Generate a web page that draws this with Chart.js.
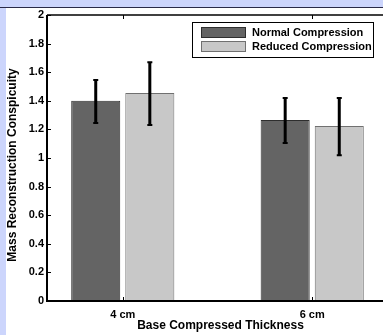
<!DOCTYPE html>
<html>
<head>
<meta charset="utf-8">
<script src="https://cdn.jsdelivr.net/npm/chart.js@4.4.0/dist/chart.umd.min.js"></script>
<style>
  html, body { margin: 0; padding: 0; }
  body { width: 383px; height: 335px; overflow: hidden; background: #ccd5fc; position: relative; }
  #topline { position: absolute; left: 0; top: 7px; width: 383px; height: 1px; background: #2a2a48; }
  #panel { position: absolute; left: 6px; top: 8px; right: 0; bottom: 0; background: #ffffff; }
  #wrap { position: absolute; left: 0; top: 0; width: 395px; height: 335px; }
</style>
</head>
<body>
<div id="topline"></div>
<div id="panel"></div>
<div id="wrap"><canvas id="chart" width="395" height="335"></canvas></div>
<script>
const categories = ['4 cm', '6 cm'];
const positions = [1, 2];
const seriesNames = ['Normal Compression', 'Reduced Compression'];
const normalValues = [1.40, 1.266];
const normalLow = [1.245, 1.105];
const normalHigh = [1.545, 1.42];
const reducedValues = [1.455, 1.224];
const reducedLow = [1.23, 1.02];
const reducedHigh = [1.67, 1.42];
const yTicks = [0, 0.2, 0.4, 0.6, 0.8, 1, 1.2, 1.4, 1.6, 1.8, 2];
const xTitle = 'Base Compressed Thickness';
const yTitle = 'Mass Reconstruction Conspicuity';

const FONT = 'Liberation Sans, Arial, Helvetica, sans-serif';

function points(values) {
    return values.map((v, i) => ({ x: positions[i], y: v }));
}

// error bars, inward ticks, box lines, titles and legend drawn on top
const matlabAxes = {
    id: 'matlabAxes',
    afterDatasetsDraw(chart) {
        const ctx = chart.ctx;
        const ys = chart.scales.y;
        ctx.save();
        chart.data.datasets.forEach((ds, di) => {
            const meta = chart.getDatasetMeta(di);
            meta.data.forEach((bar, i) => {
                const top = ys.getPixelForValue(ds.errHigh[i]);
                const bot = ys.getPixelForValue(ds.errLow[i]);
                ctx.strokeStyle = '#000';
                ctx.lineWidth = 3;
                ctx.beginPath();
                ctx.moveTo(bar.x, top);
                ctx.lineTo(bar.x, bot);
                ctx.stroke();
                ctx.lineWidth = 2;
                ctx.beginPath();
                ctx.moveTo(bar.x - 2.5, top);
                ctx.lineTo(bar.x + 2.5, top);
                ctx.moveTo(bar.x - 2.5, bot);
                ctx.lineTo(bar.x + 2.5, bot);
                ctx.stroke();
            });
        });
        ctx.restore();
    },
    afterDraw(chart) {
        const ctx = chart.ctx;
        const a = chart.chartArea;
        const xs = chart.scales.x;
        const ys = chart.scales.y;
        ctx.save();
        ctx.strokeStyle = '#000';
        // axes box
        ctx.lineWidth = 2;
        ctx.beginPath();
        ctx.moveTo(a.left, a.top);
        ctx.lineTo(a.left, a.bottom);
        ctx.lineTo(a.right, a.bottom);
        ctx.stroke();
        ctx.lineWidth = 1.5;
        ctx.beginPath();
        ctx.moveTo(a.left, a.top);
        ctx.lineTo(a.right, a.top);
        ctx.stroke();
        // inward ticks
        ctx.lineWidth = 1;
        ctx.beginPath();
        yTicks.forEach(v => {
            const y = Math.round(ys.getPixelForValue(v)) + 0.5;
            ctx.moveTo(a.left, y);
            ctx.lineTo(a.left + 4, y);
        });
        positions.forEach(p => {
            const x = Math.round(xs.getPixelForValue(p)) + 0.5;
            ctx.moveTo(x, a.top);
            ctx.lineTo(x, a.top + 4);
            ctx.moveTo(x, a.bottom);
            ctx.lineTo(x, a.bottom - 4);
        });
        ctx.stroke();

        // axis titles
        ctx.fillStyle = '#000';
        ctx.font = 'bold 12px ' + FONT;
        ctx.textAlign = 'center';
        ctx.textBaseline = 'middle';
        ctx.fillText(xTitle, (a.left + a.right) / 2 + 3, a.bottom + 25);
        ctx.save();
        ctx.translate(13, (a.top + a.bottom) / 2 + 7);
        ctx.rotate(-Math.PI / 2);
        ctx.fillText(yTitle, 0, 0);
        ctx.restore();

        // legend
        const bx = a.right - 196, by = a.top + 7, bw = 181, bh = 35;
        ctx.fillStyle = '#fff';
        ctx.fillRect(bx, by, bw, bh);
        ctx.lineWidth = 1;
        ctx.strokeRect(bx + 0.5, by + 0.5, bw, bh);
        ctx.font = 'bold 11px ' + FONT;
        ctx.textAlign = 'left';
        ctx.textBaseline = 'middle';
        chart.data.datasets.forEach((ds, i) => {
            const sy = by + 5 + i * 14;
            ctx.fillStyle = ds.backgroundColor;
            ctx.fillRect(bx + 9, sy, 45, 11);
            ctx.strokeStyle = ds.borderColor;
            ctx.strokeRect(bx + 9.5, sy + 0.5, 44, 10);
            ctx.fillStyle = '#000';
            ctx.fillText(ds.label, bx + 60, sy + 6);
        });
        ctx.restore();
    }
};

new Chart(document.getElementById('chart').getContext('2d'), {
    type: 'bar',
    data: {
        datasets: [{
            label: seriesNames[0],
            data: points(normalValues),
            errLow: normalLow,
            errHigh: normalHigh,
            backgroundColor: '#646464',
            borderColor: '#2e2e2e',
            borderWidth: 1
        }, {
            label: seriesNames[1],
            data: points(reducedValues),
            errLow: reducedLow,
            errHigh: reducedHigh,
            backgroundColor: '#c8c8c8',
            borderColor: '#707070',
            borderWidth: 1
        }]
    },
    options: {
        responsive: false,
        animation: false,
        categoryPercentage: 0.571,
        barPercentage: 0.907,
        layout: { padding: { left: 0, top: 15, right: 7, bottom: 0 } },
        plugins: {
            legend: { display: false },
            tooltip: { enabled: false }
        },
        scales: {
            x: {
                type: 'linear',
                min: 0.6,
                max: 2.4,
                offset: false,
                afterBuildTicks: (scale) => { scale.ticks = positions.map(p => ({ value: p })); },
                afterFit: (scale) => { scale.height = 34; },
                grid: { display: false, drawTicks: false },
                border: { display: false },
                ticks: {
                    color: '#000',
                    font: { family: FONT, size: 11, weight: 'bold' },
                    padding: 7,
                    maxRotation: 0,
                    callback: (v) => categories[positions.indexOf(v)]
                }
            },
            y: {
                min: 0,
                max: 2,
                afterBuildTicks: (scale) => { scale.ticks = yTicks.map(v => ({ value: v })); },
                afterFit: (scale) => { scale.width = 47; },
                grid: { display: false, drawTicks: false },
                border: { display: false },
                ticks: {
                    color: '#000',
                    font: { family: FONT, size: 11, weight: 'bold' },
                    padding: 3,
                    callback: (v) => String(+v.toFixed(1))
                }
            }
        }
    },
    plugins: [matlabAxes]
});
</script>
</body>
</html>
